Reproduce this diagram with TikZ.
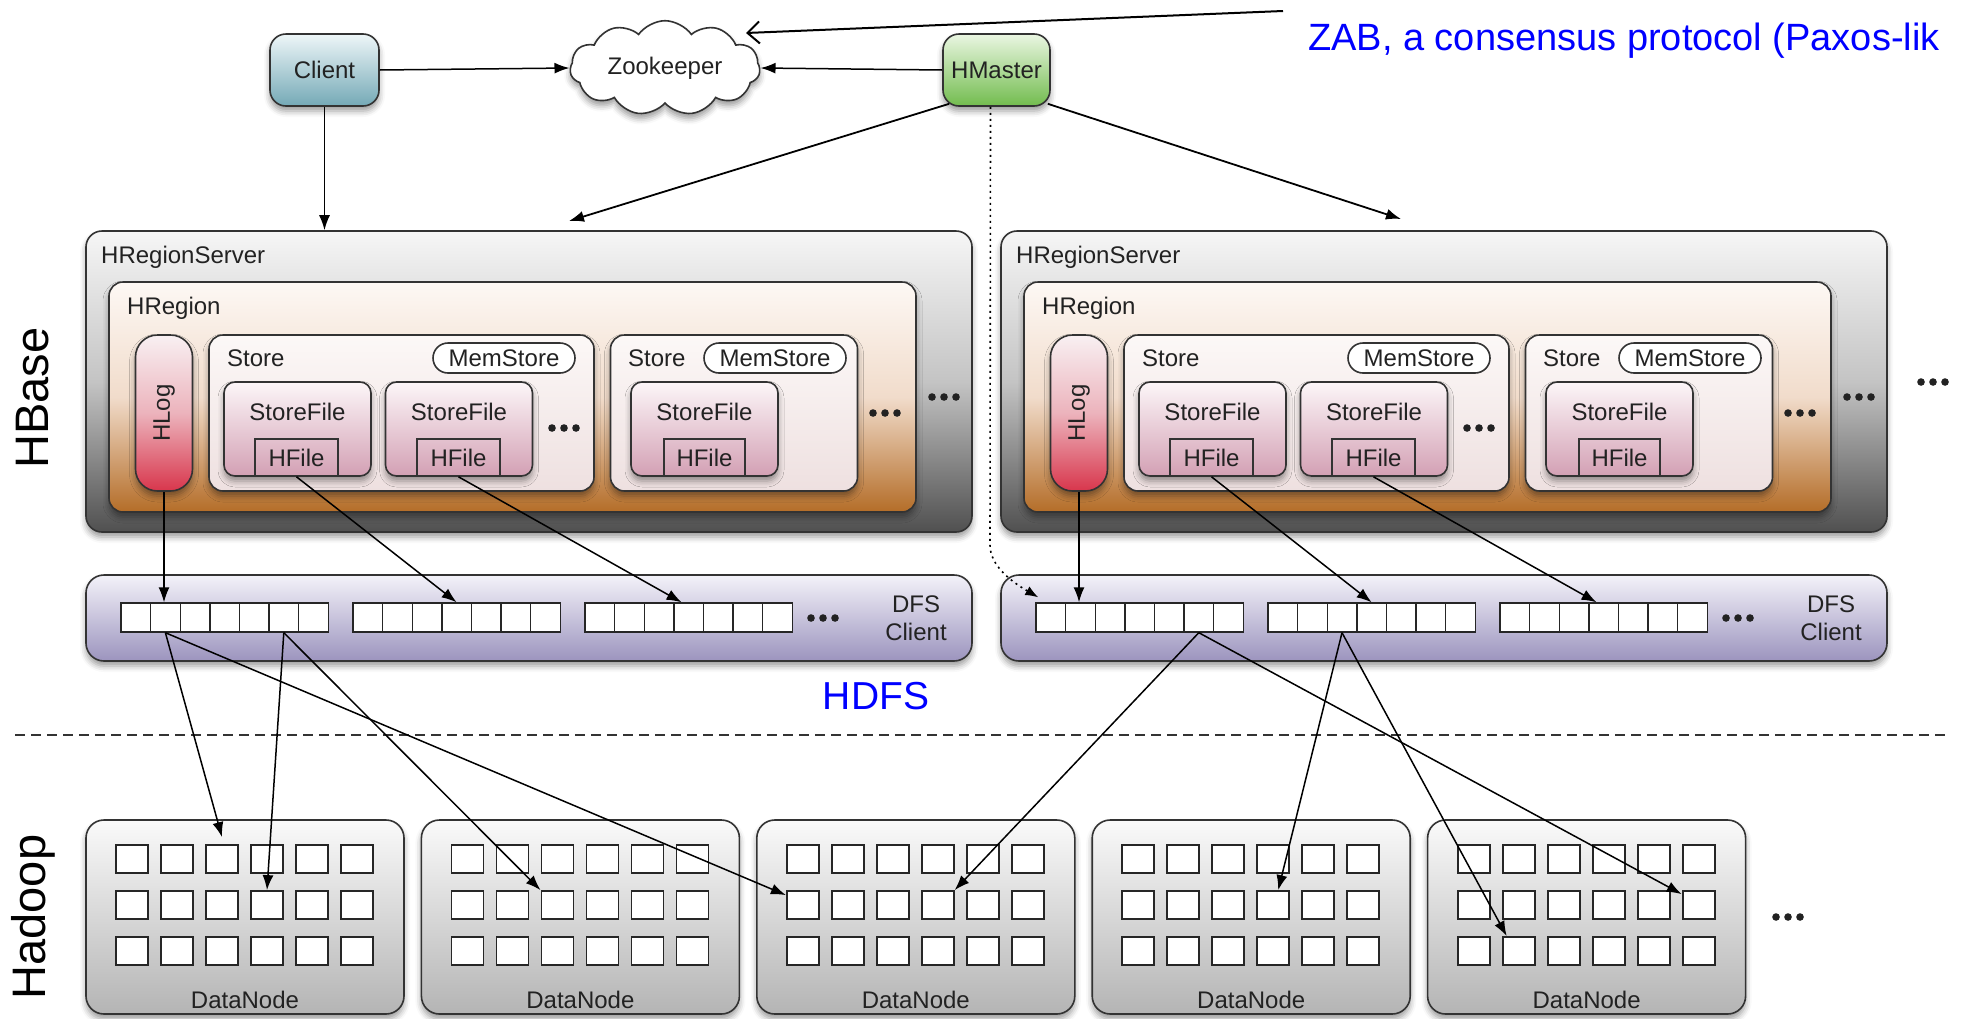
\documentclass[tikz,border=0pt]{standalone}
\usepackage{fontspec}
\setmainfont{Liberation Sans}
\usetikzlibrary{shapes.symbols,arrows.meta,shadows.blur,calc}
\definecolor{clientT}{HTML}{EEF6F8}
\definecolor{clientB}{HTML}{74A9B6}
\definecolor{hmT}{HTML}{EAF6E2}
\definecolor{hmB}{HTML}{72BC4E}
\definecolor{hrsT}{HTML}{F6F6F6}
\definecolor{hrsM}{HTML}{C4C4C4}
\definecolor{hrsB}{HTML}{505050}
\definecolor{hregT}{HTML}{FDF8F4}
\definecolor{hregM}{HTML}{F1DCCB}
\definecolor{hregB}{HTML}{B46D28}
\definecolor{storeT}{HTML}{FCF8F7}
\definecolor{storeB}{HTML}{EEE0E0}
\definecolor{sfT}{HTML}{FCF6F8}
\definecolor{sfB}{HTML}{D3A0B4}
\definecolor{hlogT}{HTML}{F8F0F2}
\definecolor{hlogM}{HTML}{ECB3BC}
\definecolor{hlogB}{HTML}{D8364C}
\definecolor{dfsT}{HTML}{F3F2F9}
\definecolor{dfsB}{HTML}{9C94BE}
\definecolor{dnT}{HTML}{FAFAFA}
\definecolor{dnB}{HTML}{B4B4B4}
\definecolor{ink}{HTML}{222222}
\newcommand\tridots[2]{\fill[ink] ({#1-12},#2) circle (3.8pt) (#1,#2) circle (3.8pt) ({#1+12},#2) circle (3.8pt);}
\begin{document}
\begin{tikzpicture}[x=1pt,y=-1pt,
  txt/.style={font=\fontsize{24}{28}\selectfont, text=ink, inner sep=0},
  bx/.style={draw=black!80, line width=1.6pt, inner sep=0, rounded corners=14pt},
  shd/.style={blur shadow={shadow xshift=0pt,shadow yshift=-5pt,shadow blur radius=6pt,shadow opacity=40}},
  arr/.style={line width=1.5pt, -{Latex[length=15pt,width=11pt]}},
  cell/.style={draw=black!85, line width=1.4pt, fill=white, inner sep=0, minimum width=29.6pt, minimum height=29pt},
  dcell/.style={draw=black!85, line width=1.8pt, fill=white, inner sep=0, minimum width=32pt, minimum height=28pt},
]
\useasboundingbox (0,0) rectangle (1961,1018);

% top row
\node[bx, shd, top color=clientT, bottom color=clientB, minimum width=109pt, minimum height=72pt, rounded corners=16pt, txt] (client) at (324.5,70) {Client};
\node[bx, shd, top color=hmT, bottom color=hmB, minimum width=107pt, minimum height=72pt, rounded corners=16pt, txt] (hmaster) at (996.5,70) {HMaster};
\node[cloud, cloud puffs=11, cloud puff arc=110, aspect=2.2, draw=black!80, line width=1.6pt, fill=white, shd, minimum width=190pt, minimum height=88pt, txt] (zk) at (665,68) {Zookeeper};

\node[text=blue, font=\fontsize{38}{42}\selectfont, anchor=base west, inner sep=0] (zab) at (1308,50) {ZAB, a consensus protocol (Paxos-lik};

% side labels
\node[rotate=90, font=\fontsize{47}{50}\selectfont, text=black, inner sep=0] (hbase) at (33,398) {HBase};
\node[rotate=90, font=\fontsize{47}{50}\selectfont, text=black, inner sep=0] (hadoop) at (33,917) {Hadoop};

% region servers and DFS clients
\foreach \s/\o in {L/0,R/915}{
  \node[bx, shd, top color=hrsT, bottom color=hrsB, middle color=hrsM, minimum width=886pt, minimum height=301pt, rounded corners=16pt] (\s-hrs) at ({529+\o},381.5) {};
  \node[txt, anchor=west] (\s-hrslbl) at ({101+\o},257) {HRegionServer};
  \node[bx, shd, top color=hregT, bottom color=hregB, middle color=hregM, minimum width=807pt, minimum height=230pt] (\s-hreg) at ({512.5+\o},397) {};
  \node[txt, anchor=west] (\s-hreglbl) at ({127+\o},308) {HRegion};
  \node[bx, shd, top color=hlogT, bottom color=hlogB, middle color=hlogM, minimum width=57pt, minimum height=156pt, rounded corners=22pt] (\s-hlog) at ({164+\o},413) {};
  \node[txt, rotate=90] (\s-hloglbl) at ({164+\o},413) {HLog};
  % store 1
  \node[bx, shd, top color=storeT, bottom color=storeB, minimum width=385pt, minimum height=156pt] (\s-st1) at ({401.5+\o},413) {};
  \node[txt, anchor=west] (\s-st1lbl) at ({227+\o},358) {Store};
  \node[bx, fill=white, minimum width=142pt, minimum height=30pt, rounded corners=15pt, txt] (\s-mem1) at ({504+\o},358) {MemStore};
  \node[bx, shd, top color=sfT, bottom color=sfB, minimum width=147pt, minimum height=94pt, rounded corners=11pt] (\s-sf1) at ({297.5+\o},429) {};
  \node[txt] (\s-sf1lbl) at ({297.5+\o},412) {StoreFile};
  \node[draw=black!80, line width=1.6pt, minimum width=83pt, minimum height=37pt, inner sep=0, txt] (\s-hf1) at ({296.5+\o},457.5) {HFile};
  \node[bx, shd, top color=sfT, bottom color=sfB, minimum width=147pt, minimum height=94pt, rounded corners=11pt] (\s-sf2) at ({459+\o},429) {};
  \node[txt] (\s-sf2lbl) at ({459+\o},412) {StoreFile};
  \node[draw=black!80, line width=1.6pt, minimum width=83pt, minimum height=37pt, inner sep=0, txt] (\s-hf2) at ({458.5+\o},457.5) {HFile};
  \tridots{564+\o}{428}
  % store 2
  \node[bx, shd, top color=storeT, bottom color=storeB, minimum width=247pt, minimum height=156pt] (\s-st2) at ({734+\o},413) {};
  \node[txt, anchor=west] (\s-st2lbl) at ({628+\o},358) {Store};
  \node[bx, fill=white, minimum width=142pt, minimum height=30pt, rounded corners=15pt, txt] (\s-mem2) at ({775+\o},358) {MemStore};
  \node[bx, shd, top color=sfT, bottom color=sfB, minimum width=147pt, minimum height=94pt, rounded corners=11pt] (\s-sf3) at ({704.5+\o},429) {};
  \node[txt] (\s-sf3lbl) at ({704.5+\o},412) {StoreFile};
  \node[draw=black!80, line width=1.6pt, minimum width=81pt, minimum height=37pt, inner sep=0, txt] (\s-hf3) at ({704.5+\o},457.5) {HFile};
  \tridots{885+\o}{413}
  \tridots{944+\o}{397}
  % DFS client
  \node[bx, shd, top color=dfsT, bottom color=dfsB, minimum width=886pt, minimum height=86pt, rounded corners=18pt] (\s-dfs) at ({529+\o},618) {};
  \node[txt, align=center] (\s-dfslbl) at ({916+\o},618) {DFS\\Client};
  \foreach \g/\gx in {1/121,2/353,3/585}{
    \foreach \c in {1,...,7}{
      \node[cell] (\s-g\g-c\c) at ({\gx+\o+14.8+29.6*(\c-1)},617.5) {};
    }
  }
  \tridots{823+\o}{618}
  % arrows inside HBase
  \draw[arr] (\s-hlog.south) -- (\s-hlog.south |- \s-g1-c2.north);
  \draw[arr] (\s-hf1.south) -- (\s-g2-c4.north);
  \draw[arr] (\s-hf2.south) -- ([xshift=-7pt]\s-g3-c4.north);
}
\tridots{1933}{382}

% HDFS label
\node[text=blue, font=\fontsize{39}{44}\selectfont, inner sep=0] (hdfs) at (876,696) {HDFS};

% DataNodes
\foreach \i in {1,...,5}{
  \pgfmathsetmacro\dx{86+335.4*(\i-1)}
  \node[bx, shd, top color=dnT, bottom color=dnB, minimum width=318pt, minimum height=194pt, rounded corners=18pt] (dn\i) at ({\dx+159},917) {};
  \node[txt] (dn\i-lbl) at ({\dx+159},1000) {DataNode};
  \foreach \r in {1,2,3}{
    \foreach \c in {1,...,6}{
      \node[dcell] (dn\i-\r-\c) at ({\dx+46+45*(\c-1)},{859+46*(\r-1)}) {};
    }
  }
}
\tridots{1788}{917}

% dashed separator
\coordinate (sepL) at (15,735);
\coordinate (sepR) at (1950,735);
\draw[dash pattern=on 10pt off 6pt, line width=2pt, black!80] (sepL) -- (sepR);

% top connectors
\draw[arr] (client.east) -- (zk.west);
\draw[arr] (hmaster.west) -- (zk.east);
\coordinate (zabfrom) at (1283,11);
\coordinate (zabto) at (746,33);
\draw[line width=2pt, -{Straight Barb[length=12pt,width=22pt]}] (zabfrom) -- (zabto);
\draw[arr] (client.south) -- (client.south |- L-hrs.north);
\coordinate (m1) at (569,221);
\coordinate (m2) at (1401,219);
\draw[arr, line width=1.8pt] ([xshift=7pt,yshift=3pt]hmaster.south west) -- (m1);
\draw[arr, line width=1.8pt] ([xshift=-3pt,yshift=3pt]hmaster.south east) -- (m2);
\draw[line width=1.6pt, dash pattern=on 2pt off 4pt, -{Latex[length=13pt,width=10pt]}] ([xshift=-6pt]hmaster.south) -- (990,545) .. controls (990,566) and (1012,582) .. ([xshift=3pt,yshift=5pt]R-g1-c1.north west);

% DFS to DataNode connectors
\draw[arr] (L-g1-c2.south) -- ([yshift=7pt]dn1-1-3.north);
\draw[arr] (L-g1-c6.south) -- (dn1-2-4.north);
\draw[arr] (L-g1-c2.south) -- ([yshift=-5pt]dn3-2-1.north west);
\draw[arr] (L-g1-c6.south) -- (dn2-2-3.north west);
\draw[arr] (R-g1-c6.south) -- (dn3-2-4.north east);
\draw[arr] (R-g2-c3.south) -- ([xshift=5pt]dn4-2-4.north);
\draw[arr] (R-g2-c3.south) -- ([xshift=5pt]dn5-3-2.north west);
\draw[arr] (R-g1-c6.south) -- ([yshift=-4pt]dn5-2-6.north west);
\end{tikzpicture}
\end{document}
